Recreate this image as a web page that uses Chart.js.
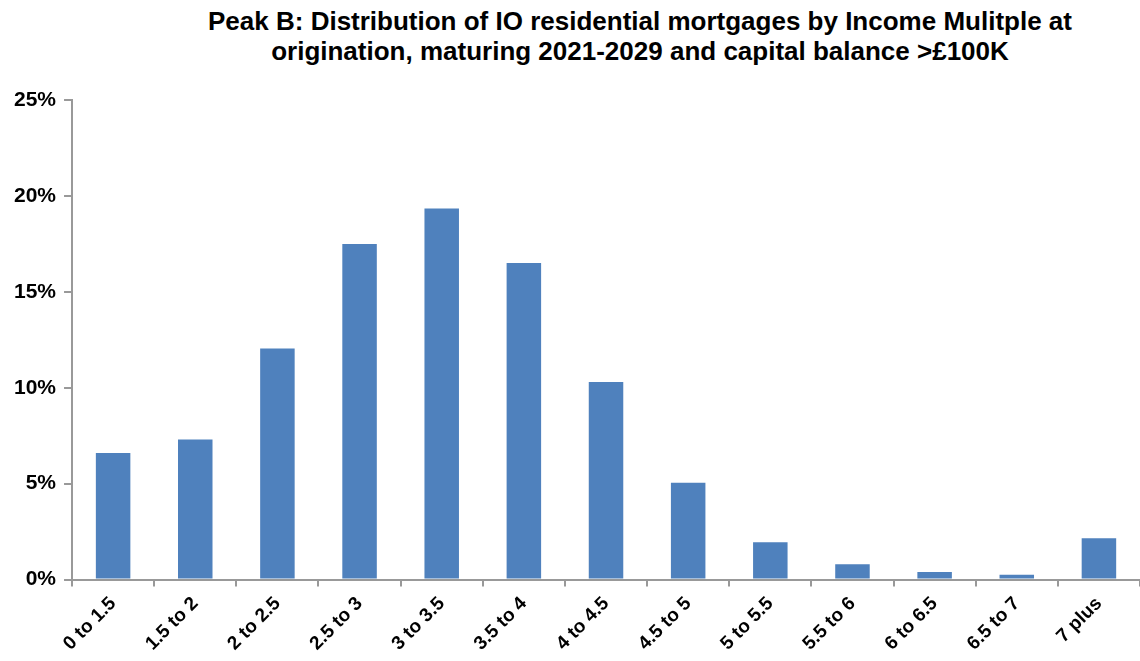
<!DOCTYPE html>
<html>
<head>
<meta charset="utf-8">
<script src="https://cdn.jsdelivr.net/npm/chart.js@4/dist/chart.umd.min.js"></script>
<style>
  html, body { margin: 0; padding: 0; background: #fff; }
  .wrap { position: relative; width: 1140px; height: 661px; }
  .title {
    position: absolute; left: 140px; top: 6px; width: 1000px;
    text-align: center; font-family: "Liberation Sans", Arial, sans-serif;
    font-weight: bold; font-size: 26px; line-height: 30px; color: #000;
  }
  canvas { position: absolute; left: 0; top: 0; }
</style>
</head>
<body>
<div class="wrap">
  <div class="title">Peak B: Distribution of IO residential mortgages by Income Mulitple at<br>origination, maturing 2021-2029 and capital balance &gt;£100K</div>
  <canvas id="chart" width="1140" height="661"></canvas>
</div>
<script>
const categories = ['0 to 1.5', '1.5 to 2', '2 to 2.5', '2.5 to 3', '3 to 3.5', '3.5 to 4', '4 to 4.5',
  '4.5 to 5', '5 to 5.5', '5.5 to 6', '6 to 6.5', '6.5 to 7', '7 plus'];
const shares = [6.6, 7.3, 12.05, 17.5, 19.35, 16.5, 10.3, 5.05, 1.95, 0.8, 0.4, 0.25, 2.15];
const yTicks = [0, 5, 10, 15, 20, 25];

const tickFont = { family: '"Liberation Sans", Arial, sans-serif', size: 21, weight: 'bold' };

new Chart(document.getElementById('chart'), {
  type: 'bar',
  data: {
    labels: categories,
    datasets: [{
      data: shares,
      backgroundColor: '#4F81BD',
      categoryPercentage: 1,
      barPercentage: 0.42
    }]
  },
  options: {
    responsive: false,
    animation: false,
    layout: { padding: { top: 100, left: 6, right: 0, bottom: 0 } },
    plugins: { legend: { display: false }, tooltip: { enabled: false } },
    scales: {
      x: {
        grid: { offset: true, drawOnChartArea: false, color: '#999', tickLength: 7, lineWidth: 2 },
        border: { color: '#999', width: 2 },
        ticks: { font: { ...tickFont, size: 19 }, color: '#000', maxRotation: 45, minRotation: 45, padding: 6 }
      },
      y: {
        min: 0, max: 25,
        afterBuildTicks: axis => { axis.ticks = yTicks.map(v => ({ value: v })); },
        grid: { drawOnChartArea: false, color: '#999', tickLength: 8, lineWidth: 2 },
        border: { color: '#999', width: 2 },
        ticks: { font: tickFont, color: '#000', padding: 8, callback: v => v + '%' }
      }
    }
  }
});
</script>
</body>
</html>
